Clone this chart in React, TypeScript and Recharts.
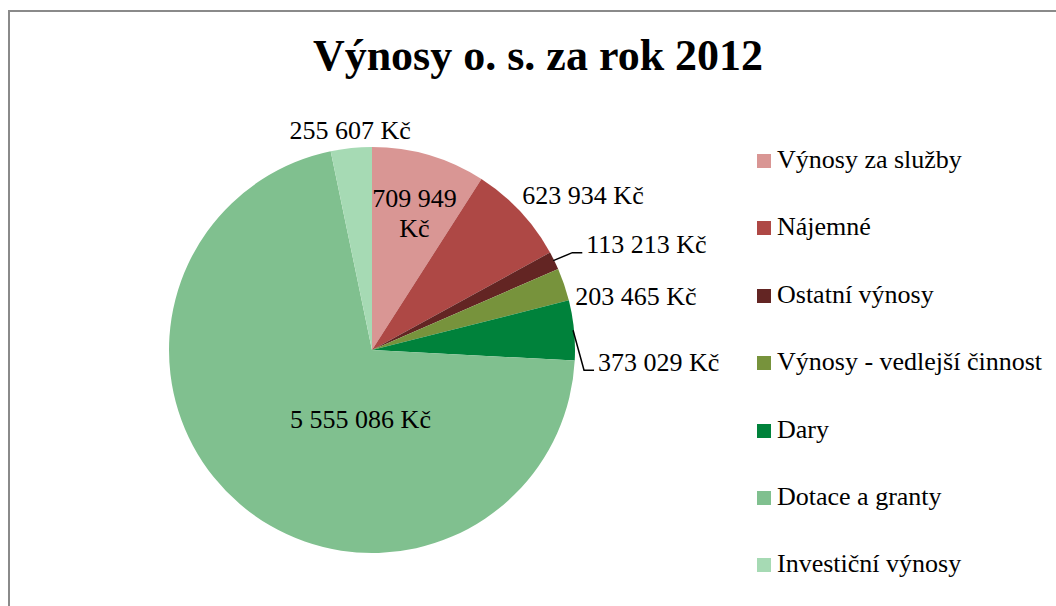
import { Pie, PieChart, Cell, Legend } from 'recharts';

const categories = [
  'Výnosy za služby',
  'Nájemné',
  'Ostatní výnosy',
  'Výnosy - vedlejší činnost',
  'Dary',
  'Dotace a granty',
  'Investiční výnosy',
];
const values = [709949, 623934, 113213, 203465, 373029, 5555086, 255607];
const valueLabels = [
  '709 949 Kč',
  '623 934 Kč',
  '113 213 Kč',
  '203 465 Kč',
  '373 029 Kč',
  '5 555 086 Kč',
  '255 607 Kč',
];
const colors = ['#D99694', '#AE4845', '#632523', '#77933C', '#00823B', '#80C08F', '#A6DAB4'];

const data = categories.map((name, i) => ({ name, value: values[i] }));

const FONT = '"Liberation Serif", "Times New Roman", serif';
const RAD = Math.PI / 180;

// label placement: r = fraction of outer radius, offsets from that point
type LabelCfg = {
  r: number;
  dx: number;
  dy: number;
  anchor: 'start' | 'middle' | 'end';
  leader?: [number, number, number, number];
  wrap?: boolean;
};
const labelCfg: LabelCfg[] = [
  { r: 0.71, dx: 2, dy: 1, anchor: 'middle', wrap: true },
  { r: 1, dx: 2, dy: -16, anchor: 'start' },
  { r: 1, dx: 32, dy: -16, anchor: 'start', leader: [18, -8, 28, -8] },
  { r: 1, dx: 11, dy: 12, anchor: 'start' },
  { r: 1, dx: 24, dy: 32, anchor: 'start', leader: [10, 40, 20, 40] },
  { r: 0.45, dx: 48, dy: 0, anchor: 'middle' },
  { r: 1, dx: -1, dy: -18, anchor: 'middle' },
];

const renderLabel = (props: any) => {
  const { cx, cy, midAngle, outerRadius, index } = props;
  const cfg = labelCfg[index];
  const ex = cx + outerRadius * Math.cos(-midAngle * RAD);
  const ey = cy + outerRadius * Math.sin(-midAngle * RAD);
  const px = cx + outerRadius * cfg.r * Math.cos(-midAngle * RAD);
  const py = cy + outerRadius * cfg.r * Math.sin(-midAngle * RAD);
  const tx = px + cfg.dx;
  const ty = py + cfg.dy;
  const text = valueLabels[index];
  return (
    <g key={`lbl-${index}`}>
      {cfg.leader && (
        <polyline
          points={`${ex - 1},${ey} ${ex + cfg.leader[0]},${ey + cfg.leader[1]} ${ex + cfg.leader[2]},${ey + cfg.leader[3]}`}
          fill='none'
          stroke='#000'
          strokeWidth={1.5}
        />
      )}
      {cfg.wrap ? (
        <text x={tx} y={ty} textAnchor={cfg.anchor} fontFamily={FONT} fontSize={26} fill='#000'>
          <tspan x={tx} dy={-6}>{text.replace(/ Kč$/, '')}</tspan>
          <tspan x={tx} dy={30}>Kč</tspan>
        </text>
      ) : (
        <text
          x={tx}
          y={ty}
          textAnchor={cfg.anchor}
          dominantBaseline='central'
          fontFamily={FONT}
          fontSize={26}
          fill='#000'
        >
          {text}
        </text>
      )}
    </g>
  );
};

const LegendContent = () => (
  <div style={{ fontFamily: FONT, fontSize: 26, color: '#000' }}>
    {categories.map((name, i) => (
      <div key={name} style={{ height: 67.4, display: 'flex', alignItems: 'flex-start' }}>
        <span
          style={{
            display: 'inline-block',
            width: 14,
            height: 14,
            background: colors[i],
            marginTop: 14,
            marginRight: 6,
          }}
        />
        <span style={{ lineHeight: '40px', whiteSpace: 'nowrap' }}>{name}</span>
      </div>
    ))}
  </div>
);

export default function App() {
  return (
    <div style={{ position: 'absolute', left: 0, top: 0, width: 1056, height: 606, background: '#fff', overflow: 'hidden' }}>
      <div
        style={{
          position: 'absolute',
          left: 8,
          top: 10,
          width: 1200,
          height: 800,
          border: '2px solid #8a8a8a',
          boxSizing: 'border-box',
        }}
      />
      <div
        style={{
          position: 'absolute',
          top: 30,
          left: 0,
          width: 1076,
          textAlign: 'center',
          fontFamily: FONT,
          fontWeight: 'bold',
          fontSize: 44,
          color: '#000',
        }}
      >
        Výnosy o. s. za rok 2012
      </div>
      <PieChart
        width={1056}
        height={606}
        margin={{ top: 0, right: 0, bottom: 0, left: 0 }}
        style={{ position: 'absolute', left: 0, top: 0 }}
      >
        <Pie
          data={data}
          dataKey='value'
          nameKey='name'
          cx={372}
          cy={350}
          outerRadius={203}
          startAngle={90}
          endAngle={-270}
          stroke='none'
          label={renderLabel}
          labelLine={false}
          isAnimationActive={false}
        >
          {data.map((d, i) => (
            <Cell key={d.name} fill={colors[i]} />
          ))}
        </Pie>
        <Legend
          layout='vertical'
          content={<LegendContent />}
          wrapperStyle={{ left: 757, top: 140, width: 300 }}
        />
      </PieChart>
    </div>
  );
}
